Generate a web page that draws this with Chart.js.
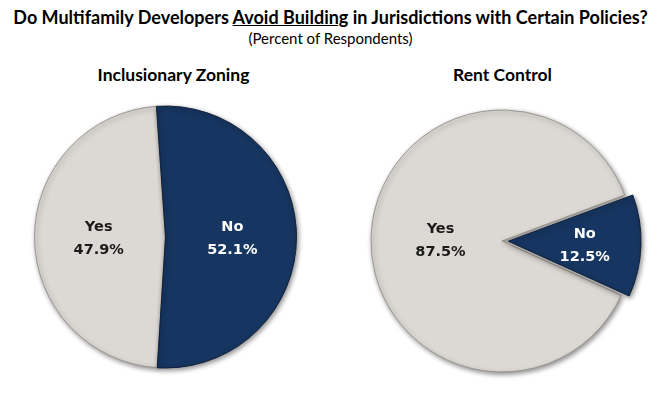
<!DOCTYPE html>
<html>
<head>
<meta charset="utf-8">
<script src="https://cdn.jsdelivr.net/npm/chart.js@4.4.1/dist/chart.umd.min.js"></script>
<style>
  html, body { margin: 0; padding: 0; background: #ffffff; }
  #wrap { position: relative; width: 661px; height: 395px; overflow: hidden; background: #fff; }
  .t { position: absolute; white-space: nowrap; color: #000; text-align: center; }
  #title { left: 0; width: 661px; top: 6px; font: bold 18px Lato, "Open Sans", sans-serif; }
  #sub { left: 0; width: 661px; top: 29px; font: 15px Lato, "Open Sans", sans-serif; }
  #t1 { left: 73px; width: 201px; top: 64px; font: bold 17.5px Lato, sans-serif; }
  #t2 { left: 402px; width: 201px; top: 64px; font: bold 17.5px Lato, sans-serif; }
  canvas { position: absolute; }
  #c1 { left: 15px; top: 87px; }
  #c2 { left: 352px; top: 91px; }
</style>
</head>
<body>
<div id="wrap">
  <div class="t" id="title">Do Multifamily Developers <u>Avoid Building</u> in Jurisdictions with Certain Policies?</div>
  <div class="t" id="sub">(Percent of Respondents)</div>
  <div class="t" id="t1">Inclusionary Zoning</div>
  <div class="t" id="t2">Rent Control</div>
  <canvas id="c1" width="301" height="300"></canvas>
  <canvas id="c2" width="300" height="300"></canvas>
</div>
<script>
// ---- data ----
const categories = ["Yes", "No"];
const inclusionaryZoning = [47.9, 52.1];
const rentControl = [87.5, 12.5];
const chartTitles = ["Inclusionary Zoning", "Rent Control"];

const GRAY = "#dcd8d3";
const NAVY = "#163560";

const shadowPlugin = {
  id: "shadowPlugin",
  beforeDatasetDraw(chart) {
    const ctx = chart.ctx;
    ctx.save();
    ctx.shadowColor = "rgba(0,0,0,0.45)";
    ctx.shadowBlur = 5;
    ctx.shadowOffsetX = 1.5;
    ctx.shadowOffsetY = 2;
  },
  afterDatasetDraw(chart) {
    chart.ctx.restore();
  }
};

const labelPlugin = {
  id: "labelPlugin",
  afterDatasetsDraw(chart, args, opts) {
    const ctx = chart.ctx;
    const meta = chart.getDatasetMeta(0);
    const ds = chart.data.datasets[0];
    meta.data.forEach((arc, i) => {
      const p = arc.getProps(["x", "y", "startAngle", "endAngle", "outerRadius", "circumference"], true);
      const mid = (p.startAngle + p.endAngle) / 2;
      const off = Array.isArray(ds.offset) ? ds.offset[i] : (ds.offset || 0);
      const fix = 1 - Math.sin(Math.min(Math.PI, p.circumference || 0));
      const shift = off / 4 * (1 + fix);
      const f = opts.fractions[i];
      const x = p.x + Math.cos(mid) * (shift + p.outerRadius * f);
      const y = p.y + Math.sin(mid) * (shift + p.outerRadius * f);
      ctx.save();
      ctx.font = "bold 14.5px 'DejaVu Sans', sans-serif";
      ctx.textAlign = "center";
      ctx.textBaseline = "middle";
      ctx.fillStyle = opts.colors[i];
      ctx.fillText(chart.data.labels[i], x, y - 9.5);
      ctx.fillText(ds.data[i].toFixed(1) + "%", x, y + 13.5);
      ctx.restore();
    });
  }
};

function makePie(id, values, rotation, offsets, fractions) {
  return new Chart(document.getElementById(id), {
    type: "pie",
    data: {
      labels: categories,
      datasets: [{
        data: values,
        backgroundColor: [GRAY, NAVY],
        borderColor: ["rgba(150,145,140,0.9)", "rgba(10,25,50,0.9)"],
        borderWidth: 1,
        offset: offsets,
        radius: 131
      }]
    },
    options: {
      responsive: false,
      devicePixelRatio: 1,
      animation: false,
      rotation: rotation,
      layout: { padding: 0 },
      plugins: {
        legend: { display: false },
        tooltip: { enabled: false },
        title: { display: false },
        labelPlugin: { fractions: fractions, colors: ["#1a1a1a", "#ffffff"] }
      }
    },
    plugins: [shadowPlugin, labelPlugin]
  });
}

makePie("c1", inclusionaryZoning, 183.6, [0, 0], [0.51, 0.51]);
makePie("c2", rentControl, 114.5, [0, 25], [0.47, 0.57]);
</script>
</body>
</html>
